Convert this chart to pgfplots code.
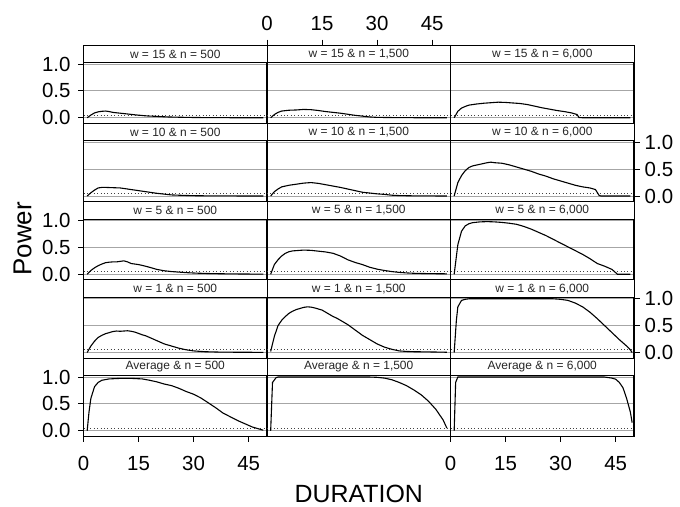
\documentclass[border=0pt]{standalone}
\usepackage{fontspec}
\setmainfont{Liberation Sans}
\usepackage{pgfplots}
\pgfplotsset{compat=1.18}

\pgfplotsset{
  every axis title shift=0pt,
  panel/.style={
    scale only axis, width=183.5bp, height=60.7bp,
    xmin=0, xmax=50, ymin=-0.105, ymax=1.025,
    anchor=north west,
    axis line style={line width=1.1bp, black},
    xtick=\empty, ytick={0,0.5,1}, yticklabels={},
    ymajorgrids, grid style={black!35, line width=0.9bp},
    major tick length=0pt,
    tick style={black, line width=0.9bp},
    tick label style={font=\fontsize{20.5}{20.5}\selectfont},
    title style={at={(0.5,1)}, anchor=south, draw=black,
      line width=0.9bp, fill=white, minimum width=183.5bp,
      minimum height=17.6bp, inner sep=0pt, outer sep=0pt,
      font=\fontsize{12}{12}\selectfont, text=black!85},
  },
  leftlab/.style={major tick length=5.5bp, tick align=outside,
    ytick pos=left, yticklabel pos=left, yticklabels={0.0,0.5,1.0},
    yticklabel style={xshift=-4bp}},
  rightlab/.style={major tick length=5.5bp, tick align=outside,
    ytick pos=right, yticklabel pos=right, yticklabels={0.0,0.5,1.0},
    yticklabel style={xshift=1.7bp}},
  bottomlab/.style={major tick length=5.5bp, tick align=outside,
    xtick={0,15,30,45}, xticklabels={0,15,30,45},
    xtick pos=left, xticklabel pos=left,
    xticklabel style={yshift=-11bp}},
  curve/.style={black, line width=1.1bp},
  alpha/.style={black!75, line width=0.8bp, dash pattern=on 0.8bp off 2.6bp},
}
\newcommand{\alphaline}{\addplot[alpha] coordinates {(0,0.05) (50,0.05)};}

\begin{document}
\begin{tikzpicture}
\path[use as bounding box] (0,0) rectangle (680bp,507bp);

% ---------- Row 1: w = 15 ----------
\begin{axis}[panel, leftlab, at={(83.5bp,444.3bp)}, title={w = 15 \& n = 500}]
\alphaline
\addplot[curve] coordinates {(1,0) (2,0.05) (3,0.09) (4,0.11) (5,0.12) (6,0.125) (7,0.115) (8,0.1) (10,0.085) (12,0.07) (14,0.055) (17,0.035) (20,0.025) (23,0.015) (26,0.01) (30,0.005) (35,0.002) (40,0.001) (49,0)};
\end{axis}
\begin{axis}[panel, at={(267bp,444.3bp)}, title={w = 15 \& n = 1,500}]
\alphaline
\addplot[curve] coordinates {(1,0) (2,0.06) (3,0.1) (4,0.125) (6,0.14) (8,0.145) (10,0.155) (12,0.15) (14,0.135) (16,0.115) (18,0.1) (20,0.085) (22,0.065) (24,0.045) (26,0.03) (28,0.015) (30,0.007) (35,0.003) (40,0.001) (49,0)};
\end{axis}
\begin{axis}[panel, at={(450.5bp,444.3bp)}, title={w = 15 \& n = 6,000}]
\alphaline
\addplot[curve] coordinates {(1,0) (2,0.12) (3,0.18) (4,0.21) (5,0.235) (7,0.255) (9,0.27) (11,0.28) (13,0.29) (15,0.285) (17,0.275) (19,0.265) (21,0.245) (23,0.215) (25,0.185) (27,0.16) (29,0.135) (31,0.115) (33,0.09) (34.5,0.06) (35,0.005) (36,0) (49,0)};
\end{axis}
% top axis above the middle strip
\begin{axis}[scale only axis, width=183.5bp, height=17.6bp, anchor=south west,
  at={(267bp,444.3bp)}, xmin=0, xmax=50, ymin=0, ymax=1,
  axis line style={draw=none}, ytick=\empty,
  xtick={0,15,30,45}, xticklabels={0,15,30,45},
  xtick pos=right, xticklabel pos=right, tick align=outside,
  major tick length=5.5bp, tick style={black, line width=0.9bp},
  tick label style={font=\fontsize{20.5}{20.5}\selectfont},
  xticklabel style={yshift=5bp}]
\end{axis}

% ---------- Row 2: w = 10 ----------
\begin{axis}[panel, at={(83.5bp,366.05bp)}, title={w = 10 \& n = 500}]
\alphaline
\addplot[curve] coordinates {(1,0) (2,0.06) (3,0.11) (4,0.15) (5,0.16) (6,0.16) (8,0.155) (10,0.15) (12,0.13) (14,0.11) (16,0.09) (18,0.07) (20,0.05) (22,0.035) (24,0.02) (27,0.012) (30,0.006) (35,0.002) (49,0)};
\end{axis}
\begin{axis}[panel, at={(267bp,366.05bp)}, title={w = 10 \& n = 1,500}]
\alphaline
\addplot[curve] coordinates {(1,0) (2,0.08) (3,0.13) (4,0.17) (6,0.2) (8,0.22) (10,0.24) (12,0.25) (14,0.235) (16,0.21) (18,0.185) (20,0.16) (22,0.13) (24,0.1) (26,0.07) (28,0.055) (30,0.04) (32,0.03) (34,0.015) (36,0.008) (40,0.003) (49,0)};
\end{axis}
\begin{axis}[panel, rightlab, at={(450.5bp,366.05bp)}, title={w = 10 \& n = 6,000}]
\alphaline
\addplot[curve] coordinates {(1,0) (2,0.25) (3,0.38) (4,0.47) (5,0.53) (6,0.56) (8,0.59) (10,0.62) (11,0.63) (12,0.62) (14,0.61) (16,0.58) (18,0.54) (20,0.5) (22,0.46) (24,0.41) (26,0.37) (28,0.32) (30,0.28) (32,0.24) (34,0.2) (36,0.17) (38,0.15) (39.5,0.12) (40.5,0.01) (41,0) (49,0)};
\end{axis}

% ---------- Row 3: w = 5 ----------
\begin{axis}[panel, leftlab, at={(83.5bp,287.8bp)}, title={w = 5 \& n = 500}]
\alphaline
\addplot[curve] coordinates {(1,0) (2,0.07) (3,0.12) (4,0.16) (5,0.19) (6,0.215) (7,0.225) (8,0.23) (9,0.23) (10,0.24) (11,0.25) (12,0.23) (13,0.2) (14,0.19) (15,0.18) (16,0.165) (18,0.13) (20,0.09) (22,0.065) (24,0.05) (26,0.04) (28,0.03) (31,0.02) (35,0.012) (40,0.007) (45,0.004) (49,0.002)};
\end{axis}
\begin{axis}[panel, at={(267bp,287.8bp)}, title={w = 5 \& n = 1,500}]
\alphaline
\addplot[curve] coordinates {(1,0) (2,0.18) (3,0.27) (4,0.34) (5,0.39) (6,0.42) (7,0.435) (8,0.44) (10,0.45) (12,0.445) (14,0.43) (16,0.415) (18,0.39) (20,0.34) (22,0.27) (24,0.22) (26,0.18) (28,0.13) (30,0.095) (32,0.07) (34,0.05) (36,0.035) (38,0.025) (40,0.018) (44,0.012) (49,0.008)};
\end{axis}
\begin{axis}[panel, at={(450.5bp,287.8bp)}, title={w = 5 \& n = 6,000}]
\alphaline
\addplot[curve] coordinates {(1,0) (2,0.55) (3,0.8) (4,0.9) (5,0.94) (6,0.96) (8,0.975) (10,0.98) (12,0.975) (14,0.965) (16,0.95) (18,0.93) (20,0.89) (22,0.84) (24,0.78) (26,0.72) (28,0.65) (30,0.58) (32,0.51) (34,0.44) (36,0.37) (38,0.29) (40,0.2) (42,0.15) (44,0.09) (45,0.03) (45.5,0) (49,0)};
\end{axis}

% ---------- Row 4: w = 1 ----------
\begin{axis}[panel, at={(83.5bp,209.55bp)}, title={w = 1 \& n = 500}]
\alphaline
\addplot[curve] coordinates {(1,0) (2,0.12) (3,0.21) (4,0.28) (5,0.32) (6,0.35) (7,0.37) (8,0.39) (9,0.4) (10,0.395) (11,0.4) (12,0.405) (13,0.395) (14,0.38) (15,0.355) (16,0.33) (17,0.31) (18,0.28) (20,0.22) (22,0.16) (24,0.12) (26,0.08) (28,0.05) (30,0.03) (33,0.015) (37,0.008) (42,0.005) (49,0.003)};
\end{axis}
\begin{axis}[panel, at={(267bp,209.55bp)}, title={w = 1 \& n = 1,500}]
\alphaline
\addplot[curve] coordinates {(1,0.02) (2,0.3) (3,0.5) (4,0.6) (5,0.67) (6,0.73) (7,0.77) (8,0.8) (9,0.82) (10,0.84) (11,0.85) (12,0.845) (13,0.83) (14,0.81) (15,0.79) (16,0.75) (17,0.71) (18,0.67) (19,0.64) (20,0.6) (22,0.52) (24,0.42) (26,0.32) (28,0.24) (30,0.16) (32,0.1) (34,0.06) (36,0.03) (38,0.02) (40,0.015) (45,0.01) (49,0.005)};
\end{axis}
\begin{axis}[panel, rightlab, at={(450.5bp,209.55bp)}, title={w = 1 \& n = 6,000}]
\alphaline
\addplot[curve] coordinates {(1,0) (1.6,0.6) (2,0.85) (3,0.97) (4,0.99) (5,1) (28,1) (30,0.99) (32,0.97) (34,0.92) (36,0.85) (38,0.75) (40,0.63) (42,0.5) (44,0.37) (46,0.24) (48,0.12) (49,0.05) (49.5,0)};
\end{axis}

% ---------- Row 5: Average ----------
\begin{axis}[panel, leftlab, bottomlab, at={(83.5bp,131.3bp)}, title={Average \& n = 500}]
\alphaline
\addplot[curve] coordinates {(1,0) (1.5,0.35) (2,0.6) (3,0.82) (4,0.9) (5,0.94) (7,0.965) (10,0.975) (13,0.975) (16,0.965) (18,0.94) (20,0.91) (22,0.87) (24,0.84) (26,0.79) (28,0.73) (30,0.68) (32,0.61) (34,0.52) (36,0.43) (38,0.33) (40,0.26) (42,0.19) (44,0.13) (46,0.07) (48,0.03) (49,0.01)};
\end{axis}
\begin{axis}[panel, at={(267bp,131.3bp)}, title={Average \& n = 1,500}]
\alphaline
\addplot[curve] coordinates {(1,0) (1.5,0.9) (2.5,0.99) (3,1) (28,1) (30,0.995) (32,0.98) (34,0.95) (36,0.9) (38,0.84) (40,0.76) (42,0.67) (44,0.55) (46,0.4) (48,0.2) (49,0.05)};
\end{axis}
\begin{axis}[panel, bottomlab, ytick style={draw=none}, at={(450.5bp,131.3bp)}, title={Average \& n = 6,000}]
\alphaline
\addplot[curve] coordinates {(1,0) (1.4,0.9) (2,1) (42,1) (44,0.98) (45,0.96) (46,0.9) (47,0.8) (48,0.6) (49,0.35) (49.5,0.15)};
\end{axis}

% axis titles
\node[rotate=90, font=\fontsize{26}{26}\selectfont] at (22.5bp,268.2bp) {Power};
\node[font=\fontsize{25}{25}\selectfont] at (358.75bp,13bp) {DURATION};
\end{tikzpicture}
\end{document}
